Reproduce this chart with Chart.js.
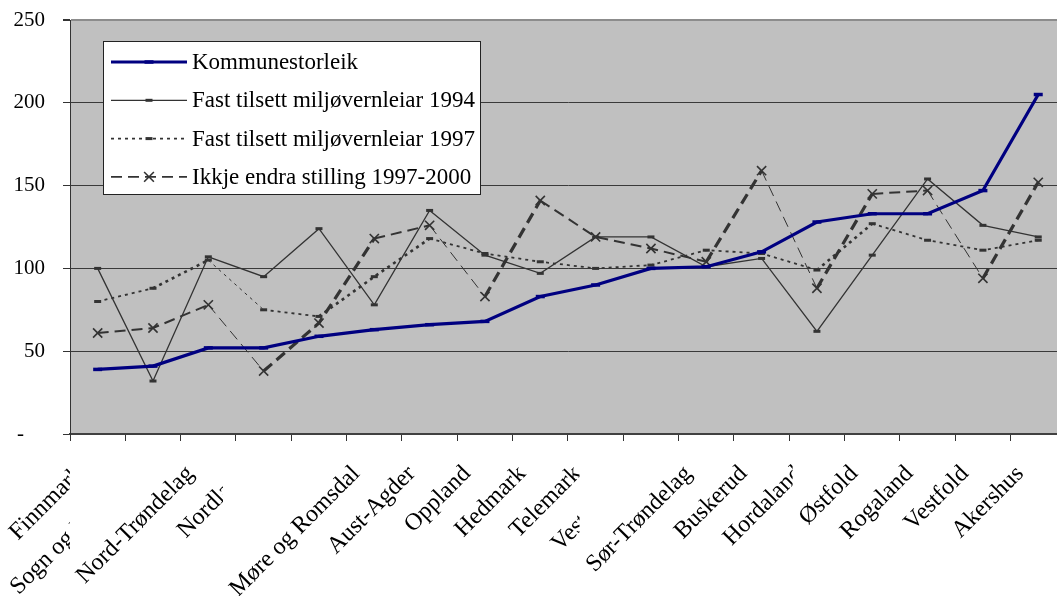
<!DOCTYPE html>
<html>
<head>
<meta charset="utf-8">
<script src="https://cdn.jsdelivr.net/npm/chart.js@4.4.1/dist/chart.umd.min.js"></script>
<style>
  html, body { margin: 0; padding: 0; background: #fff; overflow: hidden; }
  #wrap { width: 1057px; height: 596px; overflow: hidden; }
</style>
</head>
<body>
<div id="wrap"><canvas id="chart" width="1074" height="596"></canvas></div>
<script>
// fylke, sorted by kommunestorleik
var fylker = ['Finnmark', 'Sogn og Fjordane', 'Nord-Trøndelag', 'Nordland', 'Troms',
  'Møre og Romsdal', 'Aust-Agder', 'Oppland', 'Hedmark', 'Telemark', 'Vest-Agder',
  'Sør-Trøndelag', 'Buskerud', 'Hordaland', 'Østfold', 'Rogaland', 'Vestfold', 'Akershus'];

var kommunestorleik = [39, 41, 52, 52, 59, 63, 66, 68, 83, 90, 100, 101, 110, 128, 133, 133, 147, 205];
var fast1994 = [100, 32, 107, 95, 124, 78, 135, 108, 97, 119, 119, 101, 106, 62, 108, 154, 126, 119];
var fast1997 = [80, 88, 105, 75, 71, 95, 118, 109, 104, 100, 102, 111, 109, 99, 127, 117, 111, 117];
var ikkjeEndra = [61, 64, 78, 38, 67, 118, 126, 83, 141, 119, 112, 104, 159, 88, 145, 147, 94, 152];

var seriesNames = ['Kommunestorleik', 'Fast tilsett miljøvernleiar 1994',
  'Fast tilsett miljøvernleiar 1997', 'Ikkje endra stilling 1997-2000'];

var yTicks = [0, 50, 100, 150, 200, 250];
var yTickLabels = ['-', '50', '100', '150', '200', '250'];

var serif = '"Liberation Serif", "Times New Roman", serif';
var grey = '#333333';

// excel draws the rising stretches heavier than the falling ones
function dashWidth(ctx) {
  var dy = ctx.p1.parsed.y - ctx.p0.parsed.y;
  if (dy >= 20) return 3.2;
  if (dy <= -30) return 1;
  return 2;
}
function dotWidth(ctx) {
  var dy = ctx.p1.parsed.y - ctx.p0.parsed.y;
  if (dy >= 15) return 2.6;
  if (dy <= -20) return 1;
  return 1.8;
}

var plotBg = {
  id: 'plotBg',
  beforeDraw: function (chart) {
    var ctx = chart.ctx, a = chart.chartArea;
    ctx.save();
    ctx.fillStyle = '#fff';
    ctx.fillRect(0, 0, chart.width, chart.height);
    ctx.fillStyle = '#c0c0c0';
    ctx.fillRect(a.left, a.top, a.right - a.left, a.bottom - a.top);
    ctx.restore();
  }
};

// legend box inside the plot, line sample + marker + text
var boxLegend = {
  id: 'boxLegend',
  afterDatasetsDraw: function (chart) {
    var ctx = chart.ctx;
    ctx.save();
    ctx.fillStyle = '#fff';
    ctx.fillRect(103, 41, 377, 153);
    ctx.strokeStyle = '#222';
    ctx.lineWidth = 1;
    ctx.strokeRect(103.5, 41.5, 377, 153);
    chart.data.datasets.forEach(function (ds, i) {
      var y = 62 + i * 38.3;
      ctx.beginPath();
      ctx.setLineDash(ds.borderDash || []);
      ctx.lineWidth = ds.legendWidth;
      ctx.strokeStyle = ds.borderColor;
      ctx.moveTo(111, y);
      ctx.lineTo(187, y);
      ctx.stroke();
      ctx.setLineDash([]);
      ctx.beginPath();
      ctx.lineWidth = ds.pointBorderWidth;
      ctx.strokeStyle = ds.pointBorderColor;
      var r = ds.pointRadius;
      if (ds.pointStyle === 'crossRot') {
        ctx.moveTo(149 - r * 0.75, y - r * 0.75); ctx.lineTo(149 + r * 0.75, y + r * 0.75);
        ctx.moveTo(149 - r * 0.75, y + r * 0.75); ctx.lineTo(149 + r * 0.75, y - r * 0.75);
      } else {
        ctx.moveTo(149 - r, y); ctx.lineTo(149 + r, y);
      }
      ctx.stroke();
      ctx.fillStyle = '#000';
      ctx.font = '23px ' + serif;
      ctx.textAlign = 'left';
      ctx.textBaseline = 'middle';
      ctx.fillText(ds.label, 192, y + 1);
    });
    ctx.restore();
  }
};

// category labels: the ones with ø were pasted with an opaque white box
// that hides bits of the labels drawn before them
var xLabels = {
  id: 'xLabels',
  afterDraw: function (chart) {
    var xs = chart.scales.x, ctx = chart.ctx;
    var items = xs.getLabelItems();
    ctx.save();
    items.forEach(function (it) {
      var o = it.options, size = it.font.size;
      ctx.save();
      ctx.translate(o.translation[0], o.translation[1]);
      ctx.rotate(o.rotation);
      ctx.font = it.font.string;
      ctx.textAlign = 'right';
      ctx.textBaseline = 'middle';
      if (/[^\x00-\x7f]/.test(it.label)) {
        var w = ctx.measureText(it.label).width;
        var m = ctx.getTransform();
        var pts = [[-w - 2, it.textOffset - size * 0.55], [2, it.textOffset - size * 0.55],
                   [2, it.textOffset + size * 0.55], [-w - 2, it.textOffset + size * 0.55]];
        var xsP = [], ysP = [];
        pts.forEach(function (p) {
          var q = m.transformPoint(new DOMPoint(p[0], p[1]));
          xsP.push(q.x); ysP.push(q.y);
        });
        var x0 = Math.min.apply(null, xsP), x1 = Math.max.apply(null, xsP);
        var y0 = Math.max(Math.min.apply(null, ysP), xs.top + 9), y1 = Math.max.apply(null, ysP);
        ctx.save();
        ctx.setTransform(1, 0, 0, 1, 0, 0);
        ctx.fillStyle = '#fff';
        ctx.fillRect(x0, y0, x1 - x0, y1 - y0);
        ctx.restore();
      }
      ctx.fillStyle = '#000';
      ctx.fillText(it.label, 0, it.textOffset);
      ctx.restore();
    });
    ctx.restore();
  }
};

var chart = new Chart(document.getElementById('chart'), {
  type: 'line',
  data: {
    labels: fylker,
    datasets: [{
      label: seriesNames[0],
      data: kommunestorleik,
      borderColor: '#000080',
      borderWidth: 3.2,
      legendWidth: 3,
      pointStyle: 'line',
      pointRadius: 4.5,
      pointBorderWidth: 3.5,
      pointBorderColor: '#000080',
      pointBackgroundColor: '#000080',
      tension: 0
    }, {
      label: seriesNames[1],
      data: fast1994,
      borderColor: grey,
      borderWidth: 1.3,
      legendWidth: 1.3,
      pointStyle: 'line',
      pointRadius: 3.5,
      pointBorderWidth: 3,
      pointBorderColor: grey,
      pointBackgroundColor: grey,
      tension: 0
    }, {
      label: seriesNames[2],
      data: fast1997,
      borderColor: grey,
      borderWidth: 1.8,
      legendWidth: 1.6,
      borderDash: [3, 4],
      segment: { borderWidth: dotWidth },
      pointStyle: 'line',
      pointRadius: 3.5,
      pointBorderWidth: 3,
      pointBorderColor: grey,
      pointBackgroundColor: grey,
      tension: 0
    }, {
      label: seriesNames[3],
      data: ikkjeEndra,
      borderColor: grey,
      borderWidth: 2,
      legendWidth: 1.6,
      borderDash: [11, 6],
      segment: { borderWidth: dashWidth },
      pointStyle: 'crossRot',
      pointRadius: 6.5,
      pointBorderWidth: 1.6,
      pointBorderColor: grey,
      pointBackgroundColor: grey,
      tension: 0
    }]
  },
  options: {
    responsive: false,
    animation: false,
    devicePixelRatio: 1,
    layout: { padding: { top: 20, right: 0, bottom: 0, left: 0 } },
    plugins: {
      legend: { display: false },
      tooltip: { enabled: false }
    },
    scales: {
      x: {
        offset: true,
        grid: { display: true, drawOnChartArea: false, offset: true, tickLength: 7, tickColor: grey, tickWidth: 1 },
        border: { color: '#404040', width: 2 },
        ticks: {
          autoSkip: false,
          minRotation: 45,
          maxRotation: 45,
          labelOffset: -18,
          padding: 19,
          color: 'rgba(0,0,0,0)',
          font: { family: serif, size: 24 }
        },
        afterFit: function (s) { s.height = 162; s.paddingLeft = 0; s.paddingRight = 0; }
      },
      y: {
        min: yTicks[0],
        max: yTicks[yTicks.length - 1],
        ticks: {
          stepSize: 50,
          padding: 18,
          color: '#000',
          font: { family: serif, size: 21 },
          callback: function (v) {
            var i = yTicks.indexOf(v);
            return v === 0 ? yTickLabels[i] + '\u00a0\u00a0\u00a0\u00a0' : yTickLabels[i];
          }
        },
        grid: {
          color: function (c) { return c.tick && c.tick.value === 250 ? '#8c8c8c' : '#3a3a3a'; },
          lineWidth: function (c) { return c.tick && c.tick.value === 250 ? 2 : 1; },
          tickLength: 7,
          tickColor: grey
        },
        border: { color: grey, width: 1 },
        afterFit: function (s) { s.width = 70; s.paddingTop = 0; s.paddingBottom = 0; }
      }
    }
  },
  plugins: [plotBg, boxLegend, xLabels]
});
</script>
</body>
</html>
